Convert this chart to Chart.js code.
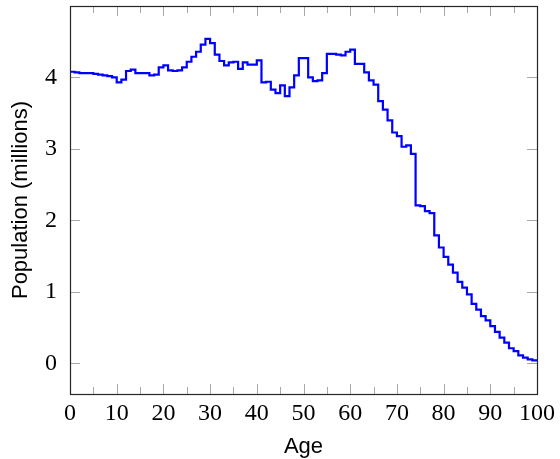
<!DOCTYPE html>
<html>
<head>
<meta charset="utf-8">
<script src="https://cdn.jsdelivr.net/npm/chart.js@4/dist/chart.umd.min.js"></script>
<style>
  html, body { margin: 0; padding: 0; background: #fff; }
  #c { display: block; }
</style>
</head>
<body>
<canvas id="c" width="560" height="459"></canvas>
<script>
// ---- data ----
const ages = [0,1,2,3,4,5,6,7,8,9,10,11,12,13,14,15,16,17,18,19,20,21,22,23,24,25,26,27,28,29,30,31,32,33,34,35,36,37,38,39,40,41,42,43,44,45,46,47,48,49,50,51,52,53,54,55,56,57,58,59,60,61,62,63,64,65,66,67,68,69,70,71,72,73,74,75,76,77,78,79,80,81,82,83,84,85,86,87,88,89,90,91,92,93,94,95,96,97,98,99,100];
const population = [
  4.08, 4.07, 4.06, 4.06, 4.06, 4.05, 4.04, 4.03, 4.02, 4.00,
  3.93, 3.97, 4.09, 4.11, 4.06, 4.06, 4.06, 4.03, 4.04, 4.14,
  4.17, 4.10, 4.09, 4.10, 4.14, 4.22, 4.29, 4.36, 4.46, 4.54,
  4.48, 4.32, 4.23, 4.17, 4.21, 4.22, 4.12, 4.21, 4.18, 4.18,
  4.24, 3.93, 3.94, 3.83, 3.78, 3.89, 3.74, 3.86, 4.03, 4.27,
  4.27, 4.00, 3.95, 3.96, 4.06, 4.33, 4.33, 4.32, 4.31, 4.36,
  4.39, 4.19, 4.19, 4.07, 3.96, 3.90, 3.67, 3.55, 3.40, 3.23,
  3.18, 3.03, 3.05, 2.93, 2.21, 2.20, 2.13, 2.10, 1.79, 1.62,
  1.49, 1.38, 1.27, 1.14, 1.06, 0.965, 0.83, 0.75, 0.66, 0.60,
  0.52, 0.44, 0.36, 0.29, 0.21, 0.17, 0.11, 0.08, 0.055, 0.04,
  0.03
];
const xMajorTicks = [0,10,20,30,40,50,60,70,80,90,100];
const xMinorTicks = [5,15,25,35,45,55,65,75,85,95];
const yMajorTicks = [0,1,2,3,4];
const xTitle = 'Age';
const yTitle = 'Population (millions)';

// ---- chart ----
const points = ages.map((a, i) => ({ x: a, y: population[i] }));

const framePlugin = {
  id: 'pgfFrame',
  beforeDatasetsDraw(chart) {
    const { ctx, chartArea: a, scales: { x, y } } = chart;
    ctx.save();
    ctx.strokeStyle = '#a8a8a8';
    ctx.lineWidth = 1;
    const major = 10, minor = 7;
    const vx = (v, len) => {
      const px = Math.round(x.getPixelForValue(v)) + 0.5;
      ctx.beginPath();
      ctx.moveTo(px, a.bottom); ctx.lineTo(px, a.bottom - len);
      ctx.moveTo(px, a.top); ctx.lineTo(px, a.top + len);
      ctx.stroke();
    };
    xMajorTicks.forEach(v => vx(v, major));
    xMinorTicks.forEach(v => vx(v, minor));
    yMajorTicks.forEach(v => {
      const py = Math.round(y.getPixelForValue(v)) + 0.5;
      ctx.beginPath();
      ctx.moveTo(a.left, py); ctx.lineTo(a.left + major, py);
      ctx.moveTo(a.right, py); ctx.lineTo(a.right - major, py);
      ctx.stroke();
    });
    ctx.restore();
  },
  afterDraw(chart) {
    const { ctx, chartArea: a } = chart;
    ctx.save();
    ctx.strokeStyle = '#262626';
    ctx.lineWidth = 1.2;
    ctx.strokeRect(Math.round(a.left) + 0.5, Math.round(a.top) + 0.5,
                   Math.round(a.right - a.left), Math.round(a.bottom - a.top));
    ctx.restore();
  }
};

new Chart(document.getElementById('c'), {
  type: 'line',
  data: {
    datasets: [{
      data: points,
      borderColor: '#0000ff',
      borderWidth: 2.2,
      pointRadius: 0,
      stepped: 'before',
      fill: false,
      tension: 0
    }]
  },
  options: {
    responsive: false,
    animation: false,
    devicePixelRatio: 1,
    layout: { padding: { top: 6, right: 23, left: 0, bottom: 0 } },
    plugins: { legend: { display: false }, tooltip: { enabled: false } },
    scales: {
      x: {
        type: 'linear',
        min: 0, max: 100,
        afterBuildTicks: s => { s.ticks = xMajorTicks.map(v => ({ value: v })); },
        afterFit: s => { s.height = 65; s.paddingLeft = 0; s.paddingRight = 0; },
        grid: { display: false, drawTicks: false },
        border: { display: false },
        ticks: {
          color: '#000',
          padding: 5,
          maxRotation: 0,
          autoSkip: false,
          font: { family: '"Liberation Serif", "Times New Roman", serif', size: 24 }
        },
        title: {
          display: true, text: xTitle, color: '#000',
          padding: { top: 0, bottom: -1 },
          font: { family: '"Liberation Sans", Arial, sans-serif', size: 22 }
        }
      },
      y: {
        type: 'linear',
        min: -0.43, max: 5.0,
        afterBuildTicks: s => { s.ticks = yMajorTicks.map(v => ({ value: v })); },
        afterFit: s => { s.width = 70; s.paddingTop = 0; s.paddingBottom = 0; },
        grid: { display: false, drawTicks: false },
        border: { display: false },
        ticks: {
          color: '#000',
          padding: 13,
          autoSkip: false,
          font: { family: '"Liberation Serif", "Times New Roman", serif', size: 24 }
        },
        title: {
          display: true, text: yTitle, color: '#000',
          padding: { top: 8, bottom: 0 },
          font: { family: '"Liberation Sans", Arial, sans-serif', size: 22 }
        }
      }
    }
  },
  plugins: [framePlugin]
});
</script>
</body>
</html>
